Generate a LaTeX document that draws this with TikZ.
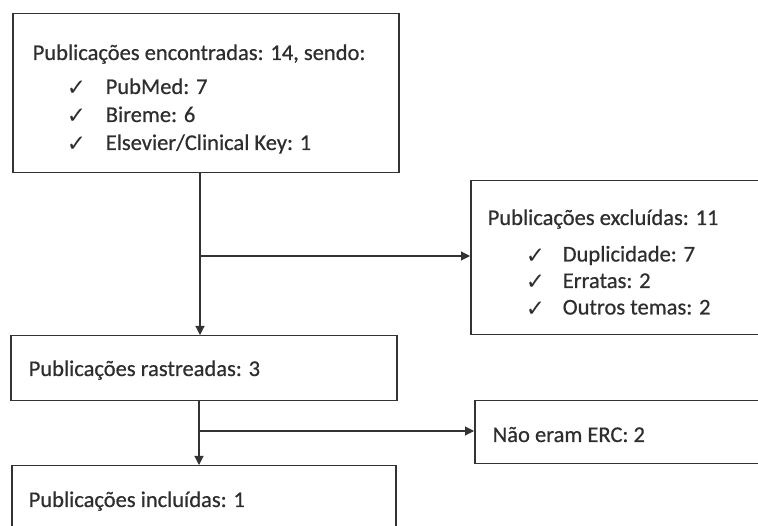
\documentclass[tikz,border=0pt]{standalone}
\usepackage{fontspec}
\setmainfont{Carlito}[FakeBold=0.6]
\newfontfamily\symfont{DejaVu Sans}
\usetikzlibrary{positioning,arrows.meta}
\colorlet{linec}{black!80}
\colorlet{textc}{black!82}
\newcommand{\chk}{{\symfont\fontsize{23}{26}\selectfont ✓}}
\tikzset{
  flow/.style={
    x=1pt, y=-1pt,
    line width=1.5pt,
    font=\fontsize{22.5}{26}\selectfont,
    text=textc,
  },
  box/.style={draw=linec, anchor=north west, inner sep=0pt},
  txt/.style={anchor=base west, inner sep=0pt},
  arr/.style={draw=linec, line width=1.1pt, -{Triangle[length=9pt,width=9pt]}},
}
\begin{document}
\begin{tikzpicture}[flow]
      \useasboundingbox (0,0) rectangle (758,526);
      \clip (0,0) rectangle (758,526);

      % Boxes
      \node[box, minimum width=386pt, minimum height=159pt] (encontradas) at (12,13) {};
      \node[box, minimum width=320pt, minimum height=154pt] (excluidas) at (470,180) {};
      \node[box, minimum width=386pt, minimum height=65pt] (rastreadas) at (10,335) {};
      \node[box, minimum width=320pt, minimum height=63pt] (naoerc) at (474,400) {};
      \node[box, minimum width=384pt, minimum height=80pt] (incluidas) at (11,465) {};

      % Texts
      \node[txt] (encHead) at ([xshift=20pt,yshift=-47pt]encontradas.north west)
        {Publicações encontradas: 14, sendo:};
      \foreach \item [count=\i] in {PubMed: 7, Bireme: 6, Elsevier/Clinical Key: 1} {
        \node[txt] (encChk\i) at ([xshift=54pt,yshift=-55pt-28pt*\i]encontradas.north west) {\chk};
        \node[txt] (encItem\i) at ([xshift=93pt,yshift=-53pt-28pt*\i]encontradas.north west) {\item};
      }
      \node[txt] (excHead) at ([xshift=17pt,yshift=-45pt]excluidas.north west)
        {Publicações excluídas: 11};
      \foreach \item [count=\i] in {Duplicidade: 7, Erratas: 2, Outros temas: 2} {
        \node[txt] (excChk\i) at ([xshift=55pt,yshift=-57pt-26.5pt*\i]excluidas.north west) {\chk};
        \node[txt] (excItem\i) at ([xshift=92pt,yshift=-55pt-26.5pt*\i]excluidas.north west) {\item};
      }
      \node[txt] (rasText) at ([xshift=18pt,yshift=-41pt]rastreadas.north west) {Publicações rastreadas: 3};
      \node[txt] (naoText) at ([xshift=18pt,yshift=-42pt]naoerc.north west) {Não eram ERC: 2};
      \node[txt] (incText) at ([xshift=17pt,yshift=-42pt]incluidas.north west) {Publicações incluídas: 1};

      % Connectors
      \coordinate (splitA) at (200,256);
      \coordinate (splitB) at (199,431);
      \draw[arr] (encontradas.south -| splitA) -- (rastreadas.north -| splitA);
      \draw[arr] (splitA) -- (excluidas.west |- splitA);
      \draw[arr] (rastreadas.south -| splitB) -- (incluidas.north -| splitB);
      \draw[arr] (splitB) -- (naoerc.west |- splitB);
\end{tikzpicture}
\end{document}
